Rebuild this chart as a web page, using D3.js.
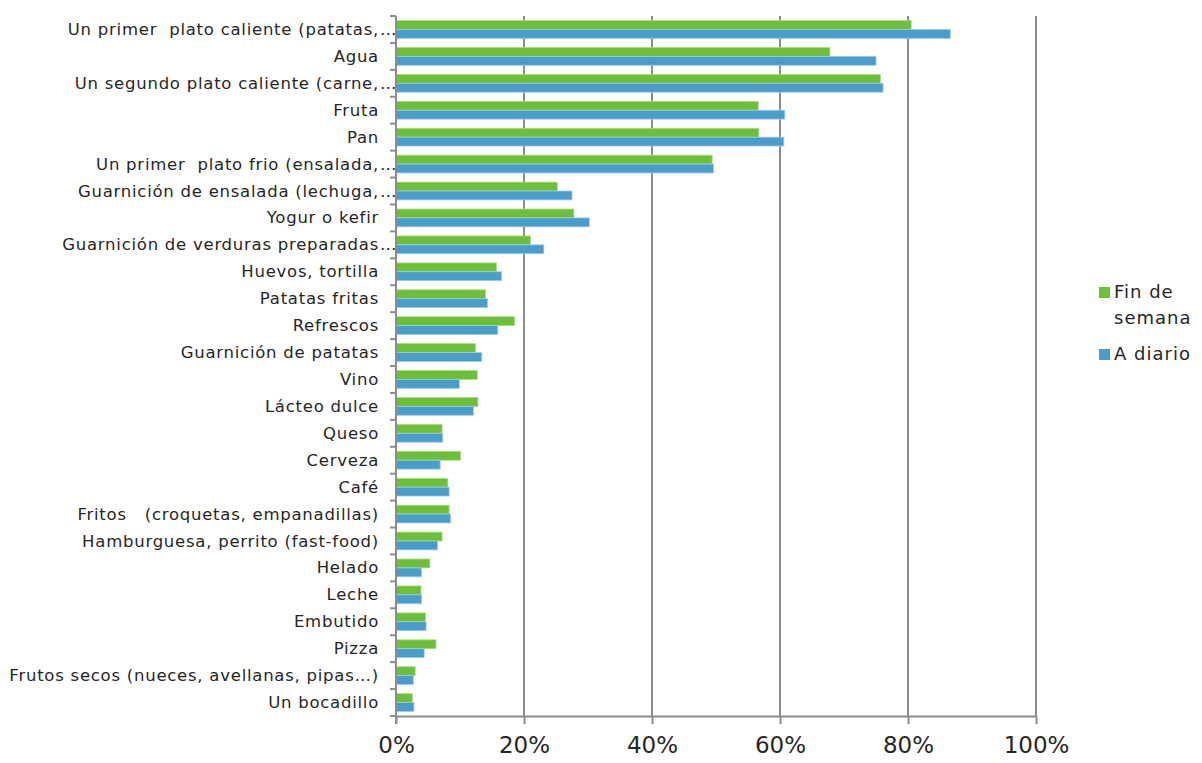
<!DOCTYPE html>
<html>
<head>
<meta charset="utf-8">
<script src="https://cdn.jsdelivr.net/npm/d3@7"></script>
<style>
  html, body { margin: 0; padding: 0; background: #fff; }
  svg { display: block; }
  text { font-family: "DejaVu Sans", sans-serif; fill: #262626; white-space: pre; }
</style>
</head>
<body>
<svg id="chart" width="1202" height="763"></svg>
<script>
// ---- data ----
const categories = [
  "Un primer  plato caliente (patatas,…",
  "Agua",
  "Un segundo plato caliente (carne,…",
  "Fruta",
  "Pan",
  "Un primer  plato frio (ensalada,…",
  "Guarnición de ensalada (lechuga,…",
  "Yogur o kefir",
  "Guarnición de verduras preparadas…",
  "Huevos, tortilla",
  "Patatas fritas",
  "Refrescos",
  "Guarnición de patatas",
  "Vino",
  "Lácteo dulce",
  "Queso",
  "Cerveza",
  "Café",
  "Fritos   (croquetas, empanadillas)",
  "Hamburguesa, perrito (fast-food)",
  "Helado",
  "Leche",
  "Embutido",
  "Pizza",
  "Frutos secos (nueces, avellanas, pipas…)",
  "Un bocadillo"
];
const finDeSemana = [80.5, 67.8, 75.7, 56.6, 56.7, 49.4, 25.2, 27.8, 21.0, 15.7, 14.0, 18.5, 12.4, 12.7, 12.8, 7.2, 10.1, 8.1, 8.3, 7.2, 5.3, 3.9, 4.6, 6.25, 3.0, 2.55];
const aDiario     = [86.6, 75.0, 76.1, 60.75, 60.6, 49.6, 27.5, 30.2, 23.1, 16.5, 14.3, 15.9, 13.4, 9.9, 12.1, 7.3, 6.9, 8.3, 8.5, 6.5, 4.0, 4.0, 4.7, 4.4, 2.7, 2.8];
const xTicks = [0, 20, 40, 60, 80, 100];
const seriesNames = ["Fin de\nsemana", "A diario"];
const seriesColors = ["#6dbf38", "#4a9ccb"];

// ---- layout ----
const svg = d3.select("#chart");
const x0 = 396, x1 = 1036, yTop = 16, yBot = 716;
const x = d3.scaleLinear().domain([0, 100]).range([x0, x1]);
const y = d3.scaleBand().domain(categories).range([yTop, yBot]).padding(0);
const bw = y.bandwidth();
const gridColor = "#8c8c8c";

// gridlines
svg.append("g").selectAll("line").data(xTicks.filter(d => d > 0)).join("line")
  .attr("x1", d => x(d)).attr("x2", d => x(d))
  .attr("y1", yTop).attr("y2", yBot)
  .attr("stroke", gridColor).attr("stroke-width", 2);

// bars
const rows = categories.map((c, i) => ({ c, f: finDeSemana[i], a: aDiario[i] }));
const gBars = svg.append("g");
gBars.selectAll("rect.f").data(rows).join("rect").attr("class", "f")
  .attr("x", x(0)).attr("y", d => y(d.c) + bw * 0.17)
  .attr("width", d => x(d.f) - x(0)).attr("height", bw * 0.33)
  .attr("fill", seriesColors[0]).attr("stroke", "#a9dc8a").attr("stroke-width", 0.8);
gBars.selectAll("rect.a").data(rows).join("rect").attr("class", "a")
  .attr("x", x(0)).attr("y", d => y(d.c) + bw * 0.5)
  .attr("width", d => x(d.a) - x(0)).attr("height", bw * 0.33)
  .attr("fill", seriesColors[1]).attr("stroke", "#9dcbe6").attr("stroke-width", 0.8);

// left axis
const gL = svg.append("g");
gL.append("line").attr("x1", x0).attr("x2", x0).attr("y1", yTop).attr("y2", yBot + 8)
  .attr("stroke", gridColor).attr("stroke-width", 2);
const bounds = categories.map(c => y(c)).concat([yBot]);
gL.selectAll("line.t").data(bounds).join("line").attr("class", "t")
  .attr("x1", x0 - 6).attr("x2", x0).attr("y1", d => d).attr("y2", d => d)
  .attr("stroke", gridColor).attr("stroke-width", 2);

// category labels (ellipsis overflows the alignment edge)
const labX = 379;
const labStyle = sel => sel.attr("font-size", 16.5).attr("letter-spacing", 0.75);
categories.forEach(c => {
  const cy = y(c) + bw / 2 + 5.5;
  const ell = c.endsWith("…") && !c.endsWith("…)");
  const main = ell ? c.slice(0, -1) : c;
  svg.append("text").attr("x", labX).attr("y", cy).attr("text-anchor", "end").call(labStyle).text(main);
  if (ell) svg.append("text").attr("x", labX + 1).attr("y", cy).call(labStyle).text("…");
});

// bottom axis
const axB = d3.axisBottom(x).tickValues(xTicks).tickSize(8).tickSizeOuter(0).tickFormat(d => d + "%");
const gB = svg.append("g").attr("transform", `translate(0,${yBot})`).call(axB);
gB.select(".domain").attr("stroke", gridColor).attr("stroke-width", 2);
gB.selectAll(".tick line").attr("stroke", gridColor).attr("stroke-width", 2);
gB.selectAll(".tick text").attr("font-size", 23).attr("font-family", "DejaVu Sans")
  .attr("fill", "#262626").attr("dy", "1.15em");

// legend
const lg = svg.append("g");
const legY = [287, 349];
seriesNames.forEach((n, i) => {
  lg.append("rect").attr("x", 1099).attr("y", legY[i]).attr("width", 11).attr("height", 11).attr("fill", seriesColors[i]);
  n.split("\n").forEach((line, j) => {
    lg.append("text").attr("x", 1114).attr("y", legY[i] + 11 + j * 26)
      .attr("font-size", 18).attr("letter-spacing", 1).text(line);
  });
});
</script>
</body>
</html>
